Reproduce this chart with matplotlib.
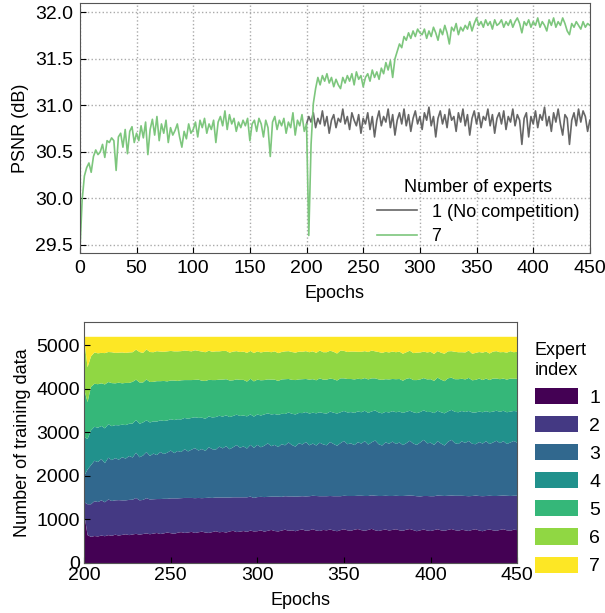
import numpy as np
import matplotlib
matplotlib.use("Agg")
import matplotlib.pyplot as plt

plt.rcParams['font.family'] = ['Liberation Sans', 'DejaVu Sans']
plt.rcParams['font.size'] = 13

# ---- PSNR curves (every 2nd epoch) ----
epochs_top = np.arange(0, 451, 2)
psnr_7 = [
    29.42, 29.98, 30.24, 30.33, 30.38, 30.28, 30.45, 30.52, 30.47, 30.50,
    30.58, 30.44, 30.62, 30.60, 30.65, 30.62, 30.30, 30.66, 30.70, 30.55,
    30.74, 30.48, 30.72, 30.77, 30.60, 30.70, 30.62, 30.78, 30.65, 30.82,
    30.47, 30.74, 30.85, 30.68, 30.88, 30.62, 30.80, 30.70, 30.84, 30.60,
    30.76, 30.68, 30.73, 30.80, 30.66, 30.55, 30.72, 30.64, 30.80, 30.70,
    30.74, 30.82, 30.66, 30.84, 30.76, 30.86, 30.70, 30.80, 30.74, 30.84,
    30.60, 30.82, 30.88, 30.78, 30.94, 30.74, 30.90, 30.80, 30.86, 30.72,
    30.82, 30.76, 30.84, 30.78, 30.86, 30.62, 30.80, 30.84, 30.72, 30.86,
    30.80, 30.66, 30.84, 30.76, 30.45, 30.82, 30.88, 30.74, 30.84, 30.78,
    30.86, 30.70, 30.82, 30.76, 30.92, 30.68, 30.84, 30.78, 30.90, 30.72,
    30.80, 29.60, 30.58, 31.02, 31.18, 31.30, 31.22, 31.32, 31.26, 31.34,
    31.24, 31.30, 31.20, 31.28, 31.22, 31.18, 31.30, 31.24, 31.32, 31.26,
    31.34, 31.22, 31.36, 31.28, 31.32, 31.20, 31.30, 31.34, 31.26, 31.38,
    31.30, 31.36, 31.28, 31.40, 31.34, 31.46, 31.38, 31.48, 31.30, 31.50,
    31.58, 31.66, 31.62, 31.74, 31.70, 31.78, 31.72, 31.80, 31.74, 31.82,
    31.78, 31.76, 31.82, 31.72, 31.80, 31.74, 31.84, 31.78, 31.70, 31.82,
    31.76, 31.86, 31.78, 31.66, 31.84, 31.80, 31.88, 31.76, 31.84, 31.80,
    31.86, 31.82, 31.90, 31.80, 31.88, 31.94, 31.86, 31.90, 31.84, 31.92,
    31.86, 31.90, 31.82, 31.92, 31.86, 31.88, 31.92, 31.84, 31.90, 31.86,
    31.92, 31.84, 31.90, 31.94, 31.88, 31.78, 31.90, 31.86, 31.92, 31.84,
    31.90, 31.86, 31.94, 31.84, 31.90, 31.86, 31.80, 31.92, 31.86, 31.94,
    31.84, 31.90, 31.86, 31.94, 31.88, 31.80, 31.76, 31.88, 31.84, 31.90,
    31.86, 31.82, 31.90, 31.84, 31.88, 31.86,
]

epochs_1 = np.arange(200, 451, 2)
psnr_1 = [
    30.80, 30.88, 30.82, 30.92, 30.76, 30.86, 30.80, 30.94, 30.78, 30.88,
    30.70, 30.84, 30.90, 30.76, 30.86, 30.82, 30.96, 30.80, 30.88, 30.74,
    30.92, 30.84, 30.78, 30.90, 30.70, 30.86, 30.80, 30.92, 30.74, 30.88,
    30.66, 30.84, 30.94, 30.78, 30.88, 30.82, 30.96, 30.76, 30.90, 30.68,
    30.84, 30.92, 30.80, 30.96, 30.78, 30.90, 30.72, 30.86, 30.94, 30.80,
    30.88, 30.74, 30.92, 30.84, 30.98, 30.78, 30.88, 30.66, 30.86, 30.94,
    30.80, 30.90, 30.76, 30.96, 30.84, 30.88, 30.72, 30.92, 30.82, 30.96,
    30.78, 30.90, 30.68, 30.86, 30.94, 30.80, 30.92, 30.76, 30.88, 30.84,
    30.96, 30.78, 30.90, 30.70, 30.86, 30.92, 30.80, 30.94, 30.74, 30.88,
    30.82, 30.96, 30.78, 30.90, 30.84, 30.58, 30.86, 30.92, 30.66, 30.88,
    30.80, 30.94, 30.76, 30.90, 30.84, 30.98, 30.78, 30.88, 30.72, 30.92,
    30.82, 30.96, 30.80, 30.68, 30.90, 30.86, 30.58, 30.84, 30.92, 30.78,
    30.96, 30.82, 30.94, 30.88, 30.72, 30.84,
]

# ---- training data per expert (every 2nd epoch, 200..450) ----
epochs_b = np.arange(200, 451, 2)
n_total = 5200
expert1 = [
    1150, 640, 600, 620, 610, 630, 615, 640, 625, 650,
    630, 645, 660, 640, 655, 670, 650, 665, 680, 660,
    675, 690, 665, 680, 700, 685, 670, 695, 710, 690,
    700, 715, 690, 705, 720, 700, 690, 710, 730, 705,
    715, 700, 725, 740, 710, 720, 735, 715, 745, 725,
    730, 750, 720, 740, 760, 735, 725, 745, 765, 740,
    750, 730, 755, 770, 740, 750, 775, 745, 735, 760,
    750, 770, 745, 730, 755, 775, 750, 740, 765, 780,
    755, 740, 760, 785, 750, 735, 755, 770, 745, 760,
    775, 750, 740, 765, 780, 755, 730, 750, 770, 745,
    735, 755, 775, 750, 740, 760, 780, 755, 740, 765,
    750, 735, 760, 775, 745, 730, 755, 770, 750, 740,
    760, 775, 750, 740, 765, 755,
]
expert2 = [
    250, 710, 750, 800, 790, 810, 780, 820, 800, 790,
    815, 795, 780, 810, 800, 825, 790, 785, 810, 800,
    790, 780, 805, 795, 775, 800, 815, 790, 780, 805,
    795, 780, 800, 790, 770, 795, 810, 785, 775, 800,
    790, 805, 780, 770, 800, 790, 775, 795, 780, 770,
    785, 770, 795, 780, 765, 790, 800, 775, 770, 790,
    780, 795, 775, 765, 790, 785, 770, 795, 800, 775,
    785, 770, 790, 805, 780, 770, 790, 800, 775, 765,
    790, 800, 780, 770, 795, 805, 785, 775, 795, 780,
    770, 790, 800, 780, 770, 790, 805, 780, 770, 795,
    800, 780, 775, 795, 800, 785, 770, 790, 805, 780,
    790, 800, 780, 775, 795, 805, 785, 775, 790, 800,
    785, 775, 795, 800, 780, 790,
]
expert3 = [
    600, 800, 900, 930, 920, 950, 900, 960, 940, 970,
    930, 990, 960, 1010, 970, 1040, 990, 1020, 1060, 1000,
    1050, 1010, 1080, 1030, 1060, 1100, 1040, 1090, 1060, 1120,
    1070, 1110, 1150, 1090, 1130, 1080, 1160, 1120, 1100, 1170,
    1130, 1180, 1110, 1150, 1200, 1140, 1170, 1120, 1190, 1150,
    1200, 1140, 1180, 1230, 1160, 1190, 1140, 1210, 1170, 1240,
    1180, 1150, 1220, 1190, 1250, 1170, 1200, 1160, 1230, 1190,
    1170, 1240, 1200, 1160, 1220, 1260, 1190, 1210, 1170, 1230,
    1200, 1260, 1180, 1220, 1270, 1190, 1160, 1230, 1200, 1250,
    1190, 1230, 1170, 1210, 1260, 1200, 1180, 1240, 1290, 1210,
    1230, 1180, 1250, 1200, 1160, 1240, 1280, 1210, 1190, 1250,
    1220, 1270, 1200, 1180, 1240, 1210, 1260, 1190, 1230, 1270,
    1210, 1250, 1190, 1230, 1260, 1220,
]
expert4 = [
    900, 700, 800, 780, 790, 760, 800, 770, 780, 760,
    790, 750, 770, 740, 780, 750, 770, 760, 730, 770,
    740, 770, 730, 760, 740, 720, 760, 730, 750, 720,
    750, 730, 710, 750, 720, 740, 710, 730, 750, 710,
    730, 710, 740, 720, 700, 730, 710, 740, 700, 720,
    700, 730, 720, 690, 730, 710, 740, 700, 720, 690,
    720, 740, 700, 720, 690, 730, 710, 740, 700, 720,
    730, 700, 720, 740, 710, 690, 730, 720, 740, 710,
    720, 700, 730, 710, 690, 730, 740, 700, 720, 700,
    730, 710, 740, 720, 690, 720, 730, 700, 680, 720,
    710, 730, 700, 720, 740, 700, 690, 720, 730, 700,
    710, 690, 720, 730, 700, 720, 690, 730, 710, 690,
    720, 700, 730, 710, 690, 720,
]
expert5 = [
    1100, 850, 1000, 990, 1000, 980, 1010, 970, 990, 960,
    980, 950, 970, 940, 960, 930, 950, 920, 940, 930,
    910, 930, 900, 920, 900, 890, 910, 880, 900, 870,
    890, 870, 860, 880, 850, 870, 840, 860, 850, 830,
    850, 830, 840, 820, 810, 830, 820, 800, 820, 810,
    800, 810, 790, 780, 800, 790, 780, 790, 800, 770,
    780, 790, 770, 780, 760, 780, 770, 760, 780, 770,
    780, 760, 770, 760, 780, 750, 770, 760, 770, 750,
    760, 750, 770, 760, 740, 760, 770, 750, 760, 740,
    760, 750, 740, 760, 750, 740, 760, 750, 740, 750,
    750, 740, 760, 750, 740, 760, 740, 750, 760, 740,
    750, 760, 740, 750, 760, 740, 750, 740, 760, 740,
    750, 740, 750, 760, 740, 750,
]
expert6 = [
    1150, 800, 700, 720, 710, 700, 720, 690, 710, 700,
    690, 710, 690, 700, 680, 690, 700, 680, 690, 690,
    680, 690, 680, 670, 690, 680, 670, 680, 670, 680,
    670, 660, 680, 660, 670, 660, 670, 650, 660, 650,
    660, 650, 640, 660, 650, 640, 650, 660, 640, 650,
    650, 640, 650, 640, 630, 650, 640, 630, 640, 640,
    640, 630, 640, 630, 640, 630, 640, 630, 640, 630,
    630, 640, 630, 620, 640, 630, 620, 630, 640, 620,
    630, 620, 630, 640, 620, 630, 620, 630, 620, 630,
    620, 630, 620, 610, 630, 620, 630, 620, 610, 620,
    630, 620, 610, 620, 630, 620, 610, 630, 620, 610,
    620, 630, 610, 620, 610, 630, 620, 610, 620, 630,
    620, 610, 620, 630, 610, 620,
]
# every sample goes to some expert, so expert 7 gets the rest
first6 = np.array([expert1, expert2, expert3, expert4, expert5, expert6])
expert7 = n_total - first6.sum(axis=0)
expert_labels = ['1', '2', '3', '4', '5', '6', '7']

fig = plt.figure(figsize=(6.05, 6.13), dpi=100)

# top panel
ax1 = fig.add_axes([0.132, 0.587, 0.843, 0.408])
ax1.plot(epochs_1, psnr_1, color='#666666', lw=1.2, label='1 (No competition)')
ax1.plot(epochs_top, psnr_7, color='#7dc67d', lw=1.2, label='7')
ax1.set_xlim(0, 450)
ax1.set_ylim(29.41, 32.1)
ax1.set_xticks(np.arange(0, 451, 50))
ax1.set_yticks([29.5, 30.0, 30.5, 31.0, 31.5, 32.0])
ax1.grid(True, ls=':', color='#aaaaaa', lw=1.0)
ax1.tick_params(direction='in', length=4, pad=5, labelsize=14)
for s in ax1.spines.values():
    s.set_color('#555555')
ax1.set_xlabel('Epochs', labelpad=6)
ax1.set_ylabel('PSNR (dB)')
ax1.legend(title='Number of experts', loc='lower right', frameon=False,
           bbox_to_anchor=(1.0, -0.01), handlelength=2.2, borderaxespad=0.2,
           labelspacing=0.4, title_fontsize=13)

# bottom panel
ax2 = fig.add_axes([0.139, 0.0816, 0.716, 0.3931])
colors = plt.cm.viridis(np.linspace(0, 1, 7))
ax2.stackplot(epochs_b, expert1, expert2, expert3, expert4, expert5, expert6,
              expert7, colors=colors, labels=expert_labels)
ax2.set_xlim(200, 450)
ax2.set_ylim(0, 5540)
ax2.set_xticks(np.arange(200, 451, 50))
ax2.set_yticks(np.arange(0, 5001, 1000))
ax2.tick_params(direction='in', length=4, pad=3, labelsize=14)
for s in ax2.spines.values():
    s.set_color('#555555')
ax2.set_xlabel('Epochs', labelpad=6)
ax2.set_ylabel('Number of training data')
ax2.legend(title='Expert\nindex', loc='upper left', bbox_to_anchor=(1.0, 0.99),
           frameon=False, handlelength=2.2, handleheight=0.9, labelspacing=0.48,
           handletextpad=0.6, alignment='left', fontsize=14, title_fontsize=13)

fig.savefig('out.png', dpi=100)
